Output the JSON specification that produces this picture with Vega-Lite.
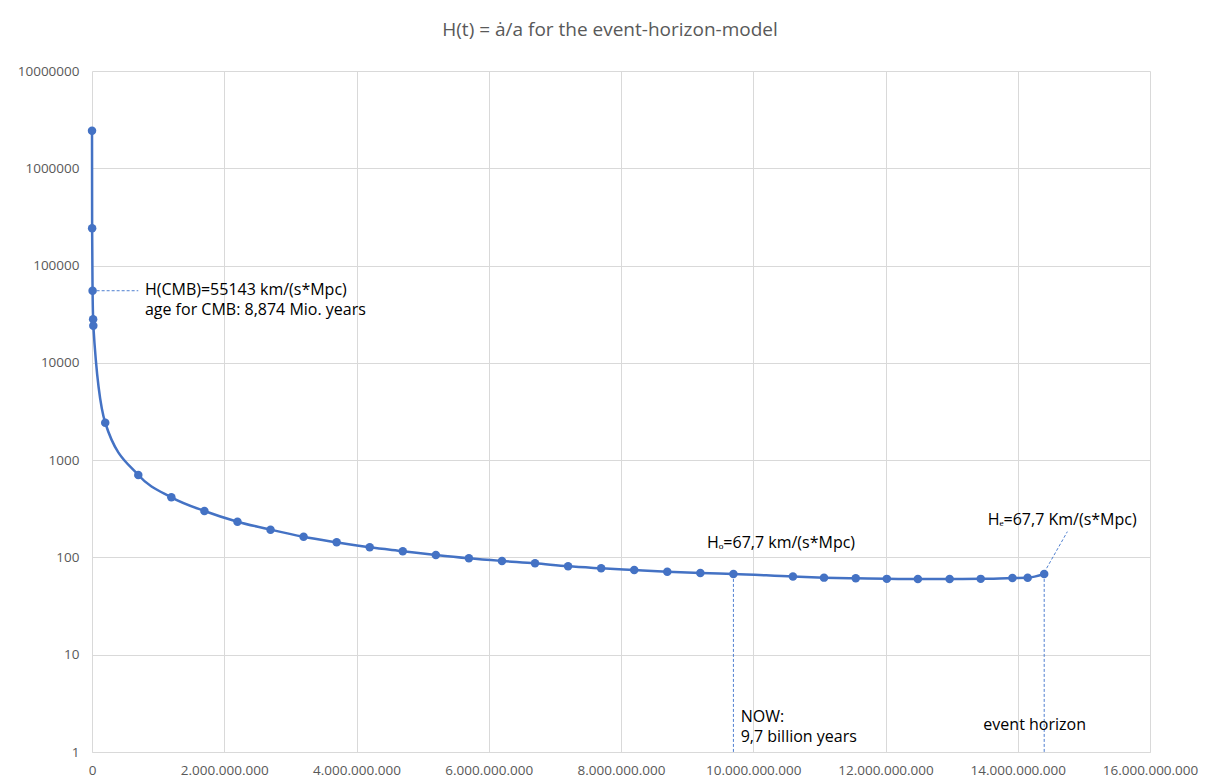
{
  "$schema": "https://vega.github.io/schema/vega-lite/v6.json",
  "width": 1058,
  "height": 681,
  "autosize": {"type": "none"},
  "padding": {"left": 92, "top": 71, "right": 71, "bottom": 31},
  "background": "white",
  "config": {
    "locale": {"number": {"decimal": ",", "thousands": ".", "grouping": [3], "currency": ["", ""]}},
    "font": "Open Sans",
    "view": {"stroke": null},
    "axis": {
      "gridColor": "#d9d9d9",
      "gridWidth": 1,
      "domainColor": "#d9d9d9",
      "ticks": false,
      "labelColor": "#595959",
      "labelFontSize": 13.5,
      "labelFont": "Open Sans",
      "title": null
    }
  },
  "title": {
    "text": "H(t) = ȧ/a for the event-horizon-model",
    "fontSize": 19,
    "fontWeight": "normal",
    "color": "#595959",
    "font": "Open Sans",
    "anchor": "middle",
    "frame": "group",
    "offset": 24,
    "dx": -11
  },
  "datasets": {
    "h": [
      {"t": 200000, "h": 2430000},
      {"t": 2000000, "h": 241700},
      {"t": 8874000, "h": 55143},
      {"t": 17000000, "h": 28050},
      {"t": 20000000, "h": 24100},
      {"t": 200000000, "h": 2423},
      {"t": 700000000, "h": 703},
      {"t": 1200000000, "h": 415},
      {"t": 1700000000, "h": 300},
      {"t": 2200000000, "h": 233},
      {"t": 2700000000, "h": 193},
      {"t": 3200000000, "h": 163},
      {"t": 3700000000, "h": 143},
      {"t": 4200000000, "h": 127},
      {"t": 4700000000, "h": 116},
      {"t": 5200000000, "h": 106},
      {"t": 5700000000, "h": 98},
      {"t": 6200000000, "h": 92},
      {"t": 6700000000, "h": 87},
      {"t": 7200000000, "h": 81},
      {"t": 7700000000, "h": 77.3},
      {"t": 8200000000, "h": 74.2},
      {"t": 8700000000, "h": 71.3},
      {"t": 9200000000, "h": 69.1},
      {"t": 9700000000, "h": 67.7},
      {"t": 10600000000, "h": 63.6},
      {"t": 11070000000, "h": 62},
      {"t": 11550000000, "h": 61},
      {"t": 12020000000, "h": 60.2},
      {"t": 12490000000, "h": 60},
      {"t": 12970000000, "h": 60},
      {"t": 13440000000, "h": 60.2},
      {"t": 13920000000, "h": 61.4},
      {"t": 14150000000, "h": 61.8},
      {"t": 14400000000, "h": 67.7}
    ],
    "rules": [
      {"t1": 70000000, "t2": 700000000, "h1": 55143, "h2": 55143},
      {"t1": 9700000000, "t2": 9700000000, "h1": 67.7, "h2": 1},
      {"t1": 14400000000, "t2": 14400000000, "h1": 67.7, "h2": 1},
      {"t1": 14400000000, "t2": 14750000000, "h1": 70, "h2": 184}
    ],
    "labels": [
      {"t": 800000000, "h": 56000, "label": "H(CMB)=55143 km/(s*Mpc)"},
      {"t": 800000000, "h": 34900, "label": "age for CMB: 8,874 Mio. years"},
      {"t": 9300000000, "h": 140.6, "label": "Hₒ=67,7 km/(s*Mpc)"},
      {"t": 13545000000, "h": 242, "label": "Hₑ=67,7 Km/(s*Mpc)"},
      {"t": 9810000000, "h": 2.29, "label": "NOW:"},
      {"t": 9810000000, "h": 1.43, "label": "9,7 billion years"},
      {"t": 13480000000, "h": 1.89, "label": "event horizon"}
    ]
  },
  "layer": [
    {
      "data": {"name": "rules"},
      "mark": {"type": "rule", "color": "#4f7fd0", "strokeWidth": 1, "strokeDash": [3, 2]},
      "encoding": {
        "x": {"field": "t1", "type": "quantitative", "scale": {"domain": [0, 16000000000], "nice": false}},
        "x2": {"field": "t2"},
        "y": {"field": "h1", "type": "quantitative", "scale": {"type": "log", "domain": [1, 10000000]}},
        "y2": {"field": "h2"}
      }
    },
    {
      "data": {"name": "h"},
      "mark": {"type": "line", "color": "#4472C4", "strokeWidth": 2.5, "interpolate": "monotone"},
      "encoding": {
        "x": {
          "field": "t", "type": "quantitative",
          "scale": {"domain": [0, 16000000000], "nice": false},
          "axis": {"values": [0, 2000000000, 4000000000, 6000000000, 8000000000, 10000000000, 12000000000, 14000000000, 16000000000], "format": ",d", "labelPadding": 11, "labelFlush": false, "labelOverlap": false}
        },
        "y": {
          "field": "h", "type": "quantitative",
          "scale": {"type": "log", "domain": [1, 10000000]},
          "axis": {"values": [1, 10, 100, 1000, 10000, 100000, 1000000, 10000000], "format": "d", "domain": false, "labelPadding": 13}
        }
      }
    },
    {
      "data": {"name": "h"},
      "mark": {"type": "point", "filled": true, "color": "#4472C4", "size": 72, "opacity": 1},
      "encoding": {
        "x": {"field": "t", "type": "quantitative"},
        "y": {"field": "h", "type": "quantitative"}
      }
    },
    {
      "data": {"name": "labels"},
      "mark": {"type": "text", "align": "left", "baseline": "middle", "fontSize": 16, "font": "Open Sans", "color": "#000000"},
      "encoding": {
        "x": {"field": "t", "type": "quantitative"},
        "y": {"field": "h", "type": "quantitative"},
        "text": {"field": "label"}
      }
    }
  ]
}
